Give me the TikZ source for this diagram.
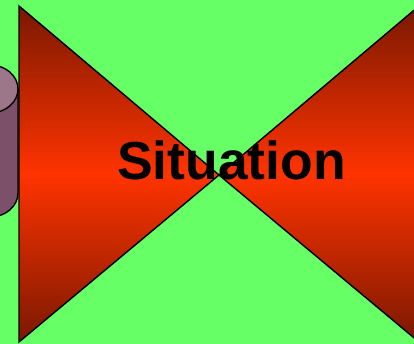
\documentclass[tikz,border=0pt]{standalone}
\usepackage{fontspec}
\setmainfont{Liberation Sans}
\definecolor{bggreen}{HTML}{66FF66}
\definecolor{deepred}{HTML}{7A1800}
\definecolor{brightred}{HTML}{FF3300}
\definecolor{cyltop}{HTML}{9C7689}
\definecolor{cylbody}{HTML}{7C5069}
\begin{document}
\begin{tikzpicture}[x=1pt,y=-1pt,
  tri/.style={draw=black,line width=1.4pt,line join=miter,top color=deepred,bottom color=deepred,middle color=brightred},
  cyl/.style={draw=black,line width=1.4pt}]
\useasboundingbox (0,0) rectangle (414,344);
\clip (0,0) rectangle (414,344);
\fill[bggreen] (0,0) rectangle (414,344);
% cylinder
\path[cyl,fill=cylbody] (-38,89) -- (-38,193) arc[start angle=180,end angle=360,x radius=28,y radius=-24] -- (18,89) -- cycle;
\path[cyl,fill=cyltop] (-10,89) ellipse[x radius=28,y radius=24];
% triangles
\coordinate (apex) at (219,175);
\coordinate (lt) at (19,6);
\coordinate (lb) at (19,342);
\coordinate (rt) at (419,6);
\coordinate (rb) at (419,342);
\path[tri] (lt) -- (lb) -- (apex) -- cycle;
\path[tri] (rt) -- (rb) -- (apex) -- cycle;
\node[font=\fontsize{53.5}{53.5}\selectfont\bfseries,inner sep=0pt,anchor=base] (label) at (231.5,180) {Situation};
\end{tikzpicture}
\end{document}
